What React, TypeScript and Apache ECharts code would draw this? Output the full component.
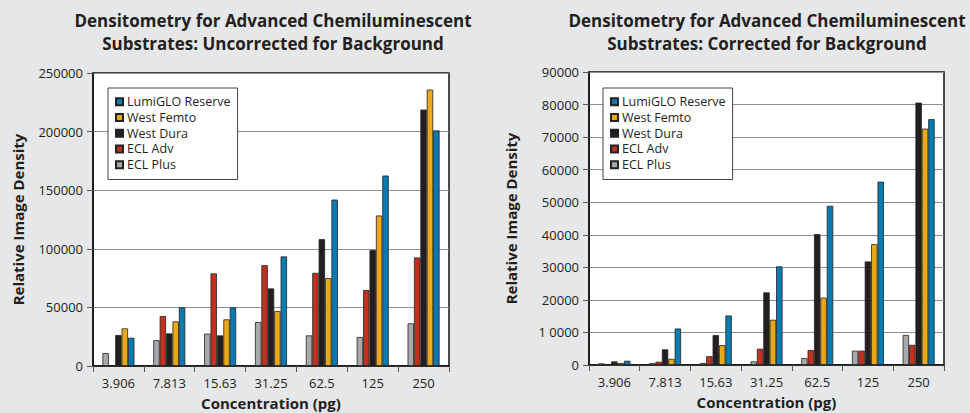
import React, { useEffect, useRef } from "react";
import * as echarts from "echarts";

const categories = ["3.906", "7.813", "15.63", "31.25", "62.5", "125", "250"];
const seriesNames = ["ECL Plus", "ECL Adv", "West Dura", "West Femto", "LumiGLO Reserve"];
const legendOrder = ["LumiGLO Reserve", "West Femto", "West Dura", "ECL Adv", "ECL Plus"];
const colors = ["#a7a9ac", "#c4301f", "#231f20", "#eaa916", "#0a7bb0"];

// Uncorrected for background
const uncEclPlus = [11000, 22000, 27600, 37500, 26100, 24700, 36400];
const uncEclAdv: (number | string)[] = ["-", 42600, 79000, 86000, 79500, 64800, 92600];
const uncWestDura = [26400, 27800, 26100, 66200, 108200, 98900, 218800];
const uncWestFemto = [32100, 38100, 39800, 46900, 75000, 128400, 235800];
const uncLumiglo = [24100, 50000, 50000, 93500, 142000, 162500, 201000];

// Corrected for background
const corEclPlus = [500, 600, 600, 1100, 2100, 4400, 9200];
const corEclAdv: (number | string)[] = ["-", 1000, 2700, 5000, 4600, 4400, 6200];
const corWestDura = [1100, 4800, 9200, 22300, 40200, 31800, 80600];
const corWestFemto = [600, 1900, 6100, 13900, 20700, 37100, 72600];
const corLumiglo = [1300, 11200, 15200, 30300, 48900, 56300, 75500];

const leftTitle = "Densitometry for Advanced Chemiluminescent\nSubstrates: Uncorrected for Background";
const rightTitle = "Densitometry for Advanced Chemiluminescent\nSubstrates: Corrected for Background";
const yName = "Relative Image Density";
const xName = "Concentration (pg)";

const FONT = "'Open Sans', 'Noto Sans', sans-serif";
const TXT = "#231f20";

export default function App() {
  const ref = useRef<HTMLDivElement>(null);
  useEffect(() => {
    if (!ref.current) return;
    const chart = echarts.init(ref.current, undefined, { renderer: "svg" });
    const uncData = [uncEclPlus, uncEclAdv, uncWestDura, uncWestFemto, uncLumiglo];
    const corData = [corEclPlus, corEclAdv, corWestDura, corWestFemto, corLumiglo];

    const mkSeries = (data: any[][], idx: number) =>
      data.map((d, i) => ({
        type: "bar",
        name: seriesNames[i],
        xAxisIndex: idx,
        yAxisIndex: idx,
        data: d,
        barWidth: 6.4,
        barGap: "0%",
        itemStyle: { color: colors[i], borderColor: "#222", borderWidth: 0.8 },
      }));

    const mkX = (idx: number) => ({
      type: "category",
      gridIndex: idx,
      data: categories,
      name: xName,
      nameLocation: "middle",
      nameGap: 29,
      nameTextStyle: { fontFamily: FONT, fontWeight: "bold", fontSize: 15, color: TXT },
      axisLine: { lineStyle: { color: "#111", width: 1.5 } },
      axisTick: { show: true, length: 6, lineStyle: { color: "#555", width: 1 } },
      axisLabel: { fontFamily: FONT, fontSize: 13, color: TXT, margin: 10 },
    });

    const mkY = (idx: number, max: number, interval: number, gap: number, fmt: (v: number) => string) => ({
      type: "value",
      gridIndex: idx,
      min: 0,
      max,
      interval,
      name: yName,
      nameLocation: "middle",
      nameGap: gap,
      nameTextStyle: { fontFamily: FONT, fontWeight: "bold", fontSize: 15, color: TXT },
      axisLine: { show: true, lineStyle: { color: "#111", width: 1.5 } },
      axisTick: { show: true, length: 6, lineStyle: { color: "#555", width: 1 } },
      axisLabel: { fontFamily: FONT, fontSize: 13, color: TXT, margin: 10, formatter: fmt },
      splitLine: { show: true, lineStyle: { color: "#8f8f8f", width: 1 } },
    });

    const mkLegend = (left: number) => ({
      orient: "vertical",
      left,
      top: 88,
      data: legendOrder,
      backgroundColor: "#fff",
      borderColor: "#444",
      borderWidth: 1,
      padding: [6, 7, 7, 7],
      itemWidth: 7,
      itemHeight: 7,
      itemGap: 0,
      icon: "rect",
      textStyle: { fontFamily: FONT, fontSize: 12.5, color: TXT, lineHeight: 15.7, padding: [0, 0, 0, -1] },
    });

    const titleStyle = { fontFamily: FONT, fontWeight: "bold", fontSize: 17, color: TXT, lineHeight: 23 };

    chart.setOption({
      animation: false,
      backgroundColor: "#e6e7e8",
      title: [
        { text: leftTitle, left: 268, top: 4, textAlign: "center", textStyle: titleStyle },
        { text: rightTitle, left: 762, top: 4, textAlign: "center", textStyle: titleStyle },
      ],
      legend: [mkLegend(108), mkLegend(603)],
      grid: [
        { left: 93, right: 521, top: 73, bottom: 47, outerBoundsMode: "none", containLabel: false, show: true, backgroundColor: "#fff", borderColor: "#111", borderWidth: 1.5 },
        { left: 589, right: 26, top: 72, bottom: 48, outerBoundsMode: "none", containLabel: false, show: true, backgroundColor: "#fff", borderColor: "#111", borderWidth: 1.5 },
      ],
      xAxis: [mkX(0), mkX(1)],
      yAxis: [
        mkY(0, 250000, 50000, 68, (v: number) => String(v)),
        mkY(1, 90000, 10000, 71, (v: number) => (v === 10000 ? "1 0000" : String(v))),
      ],
      series: [...mkSeries(uncData, 0), ...mkSeries(corData, 1)],
    });
    return () => chart.dispose();
  }, []);
  return <div ref={ref} style={{ position: "fixed", left: 0, top: 0, width: 970, height: 413 }} />;
}
